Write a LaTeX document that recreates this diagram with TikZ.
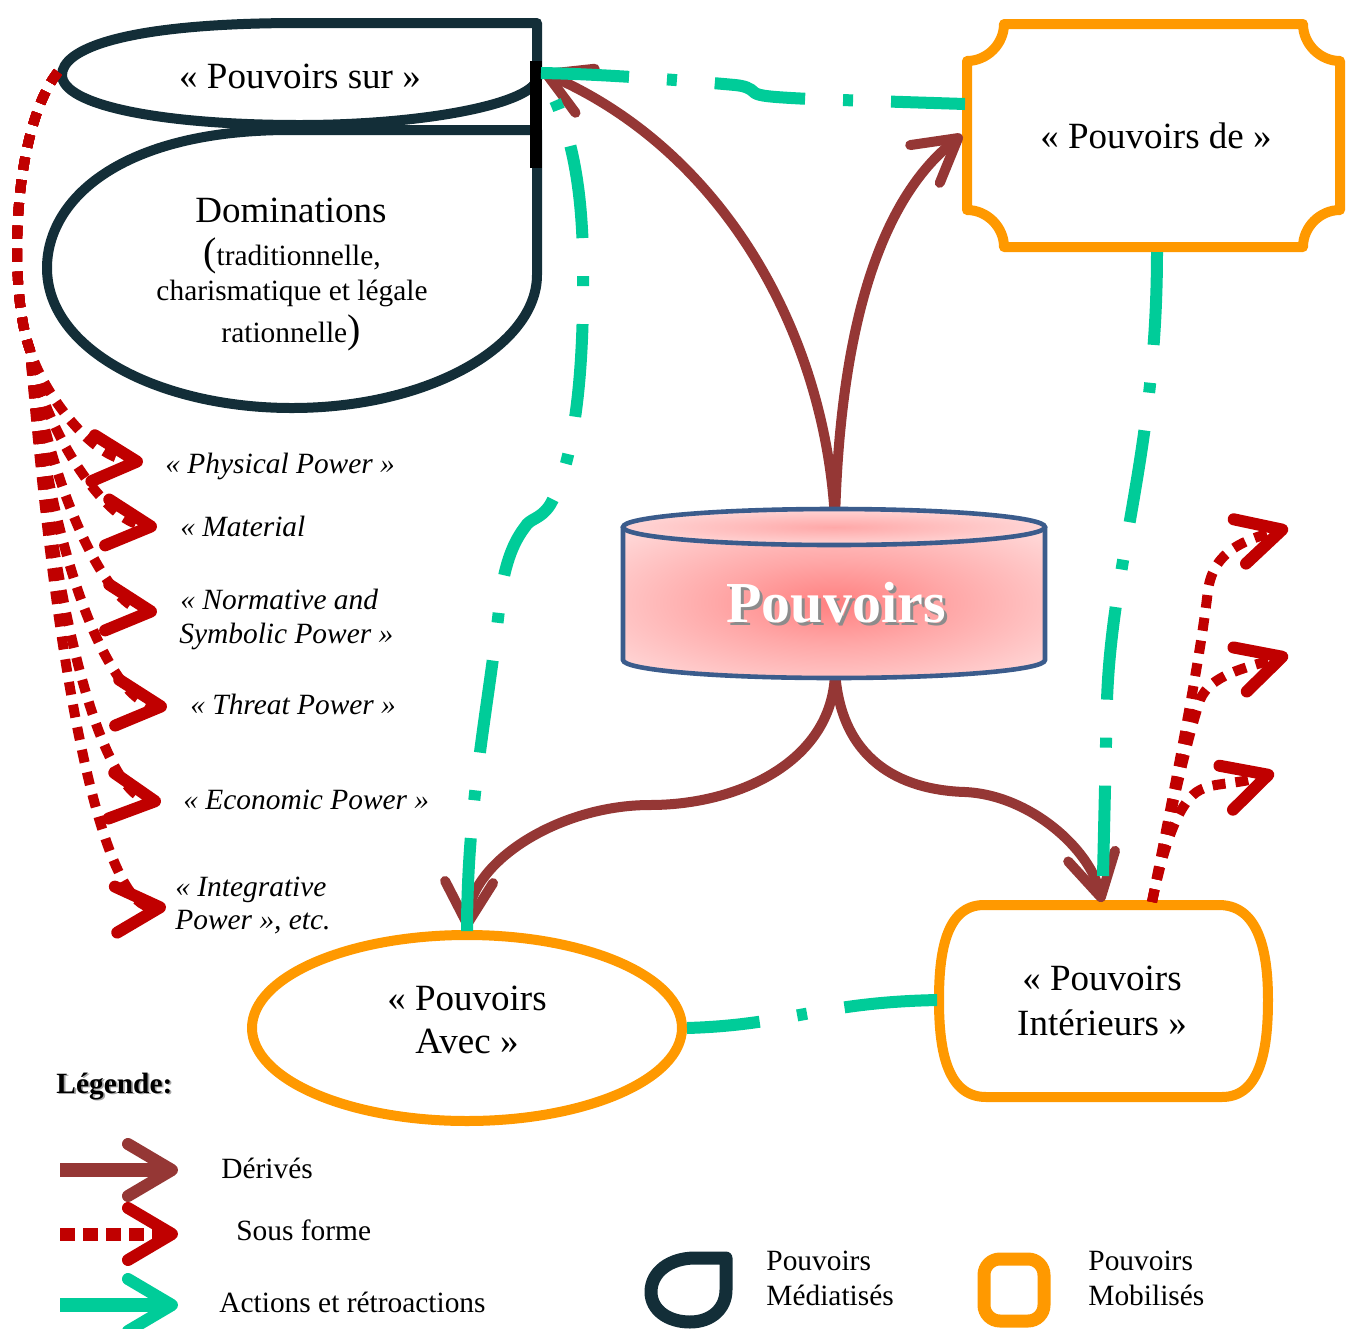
\documentclass[tikz,border=0pt]{standalone}
\usepackage{fontspec}
\setmainfont{Liberation Serif}
\usetikzlibrary{arrows.meta}

\definecolor{navy}{RGB}{19,46,56}
\definecolor{brownred}{RGB}{149,55,53}
\definecolor{aqua}{RGB}{0,204,153}
\definecolor{deepred}{RGB}{192,0,0}
\definecolor{amber}{RGB}{255,153,0}
\definecolor{cylblue}{RGB}{59,92,140}
\definecolor{pkcore}{RGB}{255,128,128}
\definecolor{pkmid}{RGB}{255,168,168}
\definecolor{pkedge}{RGB}{255,222,222}
\definecolor{pkpale}{RGB}{255,236,236}

\pgfdeclareradialshading{pinkglow}{\pgfpoint{0bp}{0bp}}{color(0bp)=(pkcore); color(14bp)=(pkmid); color(36bp)=(pkedge); color(50bp)=(pkedge)}
\pgfdeclareradialshading{capglow}{\pgfpoint{0bp}{0bp}}{color(0bp)=(pkmid); color(30bp)=(pkedge); color(50bp)=(pkpale)}

\newcommand\fbig{\fontsize{18.5}{22}\selectfont}
\newcommand\fsmall{\fontsize{14.7}{18}\selectfont}
\newcommand\fparen{\fontsize{20}{22}\selectfont}
\newcommand\fcyl{\fontsize{29}{34}\selectfont\bfseries}
% text with a soft drop shadow, set as one piece of text
\newcommand\shadowed[3]{\makebox[0pt][l]{\hspace{#2}\raisebox{-#2}{\textcolor{#3}{#1}}}#1}

\tikzset{
  navyline/.style={draw=navy, line width=5pt, line join=round},
  amberline/.style={draw=amber, line width=5pt, line join=round},
  derive/.style={draw=brownred, line width=5pt, line cap=round,
    -{Straight Barb[length=21pt, width=24pt, round]}},
  sousforme/.style={draw=deepred, line width=5pt, dash pattern=on 6.5pt off 5pt,
    -{Straight Barb[length=22pt, width=23pt, line width=6pt, round]}},
  action/.style={draw=aqua, line width=6pt, dash pattern=on 46.5pt off 19pt on 5pt off 19pt},
  biglbl/.style={inner sep=0pt, anchor=base, font=\fbig},
  smalllbl/.style={inner sep=0pt, anchor=base, font=\fsmall},
  itlbl/.style={inner sep=0pt, anchor=base west, font=\fsmall\itshape},
  legendlbl/.style={inner sep=0pt, anchor=base west, font=\fsmall},
}

\begin{document}
\begin{tikzpicture}[x=0.5pt, y=-0.5pt]
\useasboundingbox (0,0) rectangle (1346,1329);

% ---------- mediated powers: "Pouvoirs sur" and "Dominations" ----------
\path[navyline] (537,130) -- (290,130) .. controls (120,130) and (47,200) .. (47,268)
  .. controls (47,350) and (160,408) .. (292,408)
  .. controls (430,408) and (537,345) .. (537,275) -- cycle;
\path[navyline] (537,23) -- (300,23) .. controls (120,23) and (62,50) .. (62,75)
  .. controls (62,105) and (160,125) .. (300,125)
  .. controls (420,125) and (528,105) .. (537,80) -- cycle;
\draw[black, line width=6pt] (536,61) -- (536,168);

% ---------- mobilised powers ----------
\path[amberline] (1004,24) -- (1303,24) .. controls (1303,44) and (1320,61) .. (1340,61)
  -- (1340,210) .. controls (1320,210) and (1303,227) .. (1303,247)
  -- (1004,247) .. controls (1004,227) and (987,210) .. (967,210)
  -- (967,61) .. controls (987,61) and (1004,44) .. (1004,24) -- cycle;
\path[amberline] (467,1028) ellipse [x radius=215, y radius=93];
\path[amberline] (984,905) -- (1219,905) .. controls (1262,905) and (1268,960) .. (1268,1000)
  .. controls (1268,1045) and (1262,1097) .. (1222,1097) -- (986,1097)
  .. controls (945,1097) and (939,1045) .. (939,1000)
  .. controls (939,955) and (945,905) .. (984,905) -- cycle;

% ---------- connector end points ----------
\coordinate (surTip) at (542,72);
\coordinate (deTip) at (962,135);
\coordinate (cylTop) at (835,520);
\coordinate (cylBot) at (835,670);
\coordinate (avecTip) at (467,929);
\coordinate (intTip) at (1102,902);
\coordinate (avecMid) at (650,805);
\coordinate (intMid) at (965,792);

% ---------- derived powers ----------
\draw[derive] (cylTop) .. controls +(-10,-190) and +(179,78) .. (surTip);
\draw[derive] (cylTop) .. controls +(5,-190) and +(-83,65) .. (deTip);
\draw[derive] (cylBot) .. controls +(0,90) and +(90,0) .. (avecMid)
  .. controls +(-90,0) and +(3,-68) .. (avecTip);
\draw[derive] (cylBot) .. controls +(5,90) and +(-65,-2) .. (intMid)
  .. controls +(65,3) and +(-12,-53) .. (intTip);

% ---------- central cylinder ----------
\path[shading=pinkglow] (623,527) -- (623,660) .. controls (623,670) and (717.5,678) .. (834,678)
  .. controls (950.5,678) and (1045,670) .. (1045,660) -- (1045,527) -- cycle;
\path[shading=capglow] (834,527) ellipse [x radius=211, y radius=18];
\draw[cylblue, line width=2.3pt] (623,527) -- (623,660) .. controls (623,670) and (717.5,678) .. (834,678)
  .. controls (950.5,678) and (1045,670) .. (1045,660) -- (1045,527);
\draw[cylblue, line width=2.3pt] (834,527) ellipse [x radius=211, y radius=18];
\node[inner sep=0pt, anchor=base, font=\fcyl, text=white] (pouvoirs) at (836,622)
  {\shadowed{Pouvoirs}{1.5pt}{black!45}};

% ---------- actions and feedbacks ----------
\coordinate (deGreen) at (965,104);
\coordinate (surGreen) at (541,73);
\coordinate (deBot) at (1157,252);
\coordinate (intGreen) at (1103,876);
\coordinate (avecR) at (687,1028);
\coordinate (intL) at (939,1000);
\coordinate (avecTop) at (467,932);
\draw[action, dash phase=9.5pt] (deGreen) -- (810,99) .. controls (770,97) and (760,96) .. (755,93)
  .. controls (750,88) and (745,86) .. (735,85) .. controls (680,80) and (600,74) .. (surGreen);
\draw[action, dash phase=50pt] (surGreen) .. controls (575,130) and (585,200) .. (583,300)
  .. controls (582,400) and (570,470) .. (550,505) .. controls (540,520) and (530,518) .. (525,527)
  .. controls (515,540) and (505,560) .. (500,600) .. controls (490,700) and (467,800) .. (avecTop);
\draw[action] (deBot) .. controls (1157,450) and (1112,560) .. (1107,700) -- (intGreen);
\draw[action, dash phase=10pt] (avecR) .. controls (790,1025) and (820,1002) .. (intL);

% ---------- forms of power ----------
\coordinate (dotStart) at (58,72);
\coordinate (knee) at (30,350);
\coordinate (tPhys) at (143,462);
\coordinate (tMat) at (157,527);
\coordinate (tNorm) at (157,612);
\coordinate (tThr) at (167,707);
\coordinate (tEco) at (161,802);
\coordinate (tInt) at (166,907);
\draw[sousforme] (dotStart) .. controls (12,130) and (8,290) .. (knee)
  .. controls (42,390) and (90,458) .. (tPhys);
\draw[sousforme] (dotStart) .. controls (12,130) and (8,290) .. (knee)
  .. controls (40,420) and (102,522) .. (tMat);
\draw[sousforme] (dotStart) .. controls (12,130) and (8,290) .. (knee)
  .. controls (45,470) and (102,607) .. (tNorm);
\draw[sousforme] (dotStart) .. controls (12,130) and (8,290) .. (knee)
  .. controls (50,560) and (110,702) .. (tThr);
\draw[sousforme] (dotStart) .. controls (12,130) and (8,290) .. (knee)
  .. controls (55,640) and (106,795) .. (tEco);
\draw[sousforme] (dotStart) .. controls (12,130) and (8,290) .. (knee)
  .. controls (60,720) and (108,910) .. (tInt);

\coordinate (intTop) at (1152,902);
\coordinate (rA) at (1288,528);
\coordinate (rB) at (1288,655);
\coordinate (rC) at (1274,773);
\draw[sousforme] (intTop) .. controls (1180,760) and (1200,660) .. (1208,590)
  .. controls (1214,550) and (1245,540) .. (rA);
\draw[sousforme] (intTop) .. controls (1175,790) and (1190,730) .. (1200,700)
  .. controls (1210,675) and (1245,668) .. (rB);
\draw[sousforme] (intTop) .. controls (1165,840) and (1180,800) .. (1200,790)
  .. controls (1215,782) and (1235,785) .. (rC);

% ---------- labels ----------
\node[biglbl] (sur) at (300,88) {« Pouvoirs sur »};
\node[biglbl] (dom) at (291,222) {Dominations};
\node[smalllbl] (dom1) at (292,265) {{\fparen(}traditionnelle,};
\node[smalllbl] (dom2) at (292,300) {charismatique et légale};
\node[smalllbl] (dom3) at (291,342) {rationnelle{\fparen)}};
\node[biglbl] (de) at (1156,148) {« Pouvoirs de »};
\node[biglbl] (avec1) at (467,1010) {« Pouvoirs};
\node[biglbl] (avec2) at (467,1053) {Avec »};
\node[biglbl] (int1) at (1102,990) {« Pouvoirs};
\node[biglbl] (int2) at (1102,1035) {Intérieurs »};

\node[itlbl] (phys) at (165,473) {« Physical Power »};
\node[itlbl] (mat) at (180,536) {« Material};
\node[itlbl] (norm1) at (180,609) {« Normative and};
\node[itlbl] (norm2) at (179,643) {Symbolic Power »};
\node[itlbl] (thr) at (190,714) {« Threat Power »};
\node[itlbl] (eco) at (183,809) {« Economic Power »};
\node[itlbl] (integ1) at (175,896) {« Integrative};
\node[itlbl] (integ2) at (175,929) {Power », etc.};

% ---------- legend ----------
\node[legendlbl, font=\fsmall\bfseries] (legend) at (56,1093) {\shadowed{Légende:}{0.9pt}{black!35}};

\coordinate (lgA0) at (60,1170); \coordinate (lgA1) at (178,1170);
\coordinate (lgB0) at (60,1234); \coordinate (lgB1) at (178,1234);
\coordinate (lgC0) at (60,1305); \coordinate (lgC1) at (178,1305);
\draw[brownred, line width=7pt, -{Straight Barb[length=22pt, width=26pt, line width=6pt, round]}] (lgA0) -- (lgA1);
\draw[deepred, line width=6.5pt, dash pattern=on 7.5pt off 4pt, -{Straight Barb[length=22pt, width=26pt, line width=6pt, round]}] (lgB0) -- (lgB1);
\draw[aqua, line width=7pt, -{Straight Barb[length=22pt, width=26pt, line width=6pt, round]}] (lgC0) -- (lgC1);
\node[legendlbl] (lgA) at (221,1178) {Dérivés};
\node[legendlbl] (lgB) at (236,1240) {Sous forme};
\node[legendlbl] (lgC) at (219,1312) {Actions et rétroactions};

\path[draw=navy, line width=6.5pt, line join=round] (726,1258) -- (695,1258)
  .. controls (670,1258) and (651,1272) .. (651,1292)
  .. controls (651,1310) and (668,1322) .. (690,1322)
  .. controls (712,1322) and (726,1308) .. (726,1290) -- cycle;
\node[legendlbl] (med1) at (766,1270) {Pouvoirs};
\node[legendlbl] (med2) at (766,1305) {Médiatisés};
\draw[amber, line width=6.5pt, rounded corners=8pt] (984,1259) rectangle (1044,1321);
\node[legendlbl] (mob1) at (1088,1270) {Pouvoirs};
\node[legendlbl] (mob2) at (1088,1305) {Mobilisés};
\end{tikzpicture}
\end{document}
